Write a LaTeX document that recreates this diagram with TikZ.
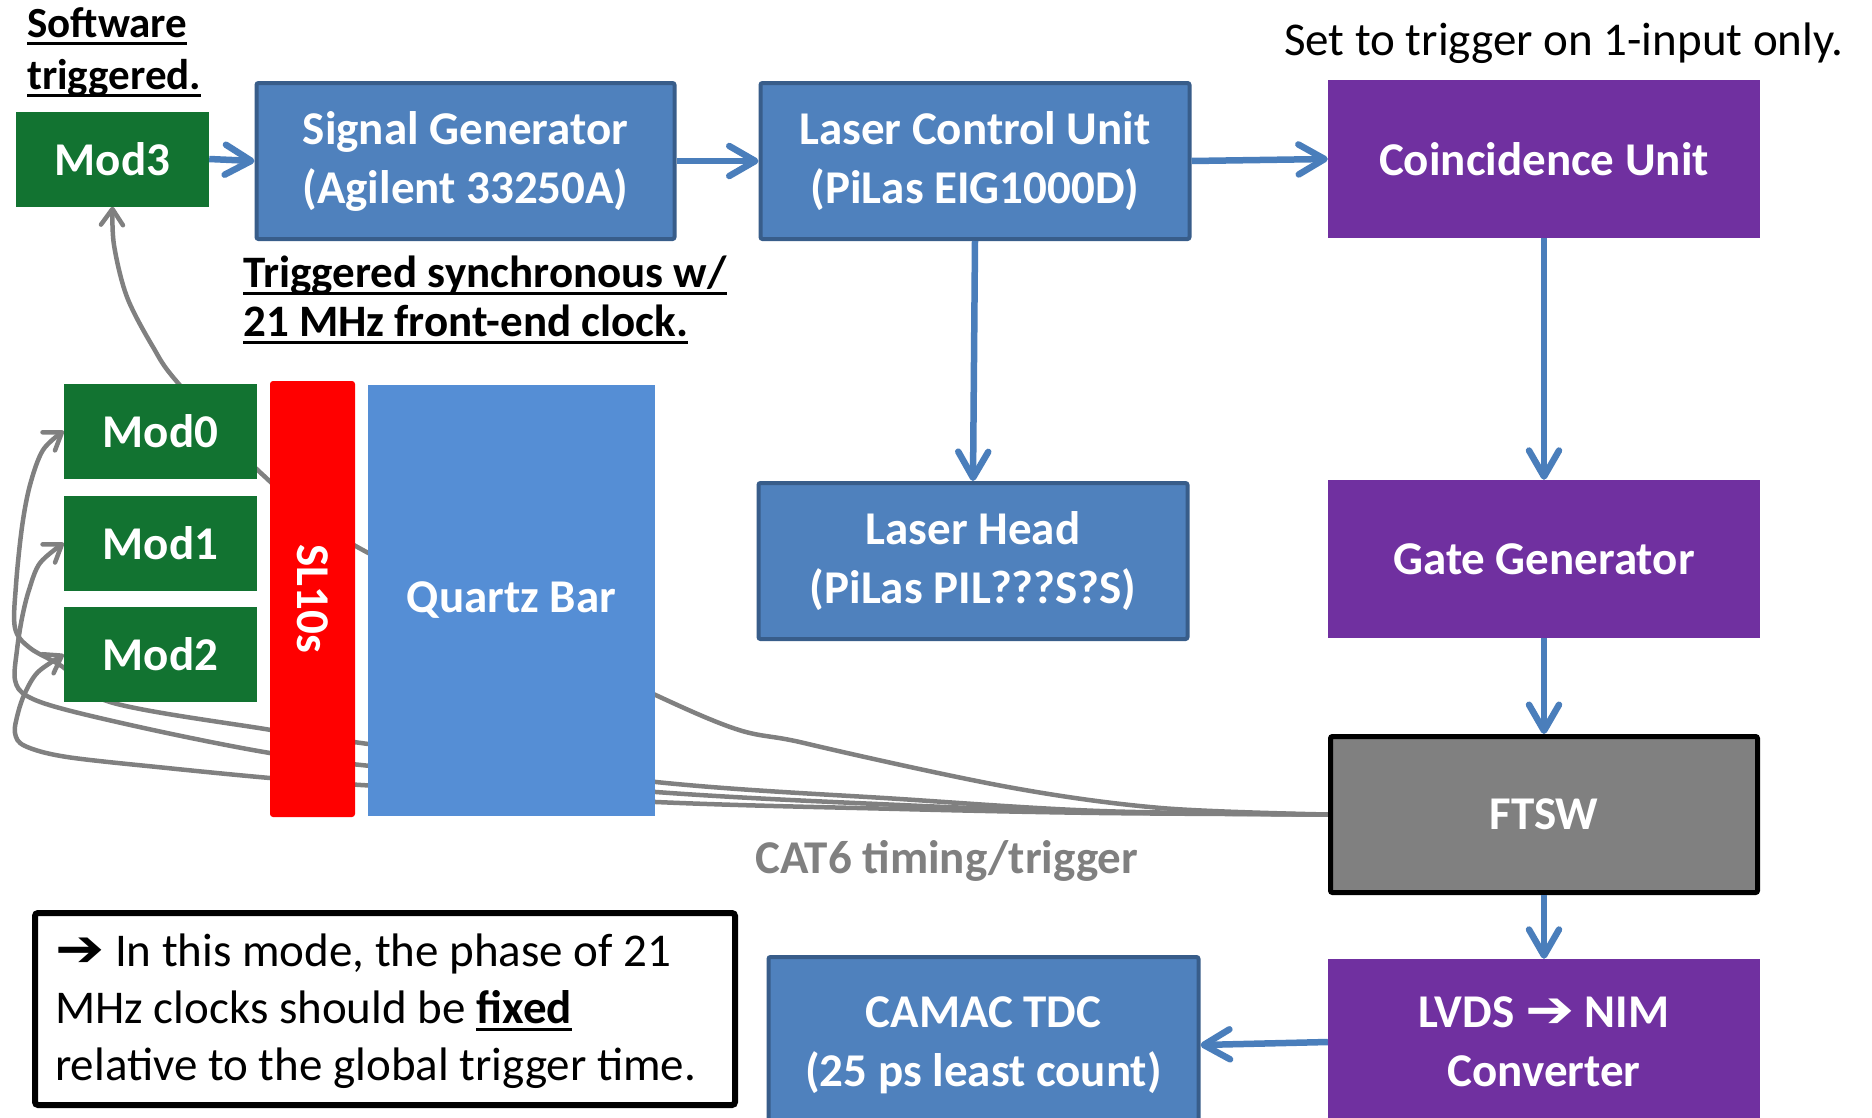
\documentclass[tikz,border=0pt]{standalone}
\usepackage{fontspec}
\setmainfont{Carlito}
\newfontfamily\symfont{DejaVu Sans}
\usetikzlibrary{arrows.meta}
\pgfdeclarelayer{bg}
\pgfsetlayers{bg,main}
\definecolor{boxblue}{HTML}{4F81BD}
\definecolor{boxborder}{HTML}{385D8A}
\definecolor{arrowblue}{HTML}{4A7EBB}
\definecolor{purp}{HTML}{7030A0}
\definecolor{modgreen}{HTML}{127331}
\definecolor{quartz}{HTML}{558ED5}
\definecolor{cable}{HTML}{808080}
\newsavebox\ulbox
\newcommand\myul[1]{\sbox\ulbox{#1}\rlap{\rule[-7.5pt]{\wd\ulbox}{3pt}}\usebox\ulbox}
\newcommand\bigarrow{\scalebox{1.25}[1.1]{\symfont\bfseries ➔}}
\tikzset{
  bigfont/.style={font=\bfseries\fontsize{47}{59}\selectfont},
  bluebox/.style={draw=boxborder, line width=4pt, fill=boxblue, rounded corners=2pt, text=white, bigfont, align=center, inner sep=0pt},
  purplebox/.style={fill=purp, text=white, bigfont, align=center, inner sep=0pt, minimum width=432pt},
  modbox/.style={fill=modgreen, text=white, bigfont, minimum width=193pt, minimum height=95pt, inner sep=0pt},
  ftswbox/.style={fill=cable, draw=black, line width=5pt, rounded corners=2pt, text=white, bigfont, minimum width=427pt, minimum height=156pt},
  bluearrow/.style={draw=arrowblue, line width=6.5pt, -{Straight Barb[length=26pt,width=30pt,round]}},
  cablestyle/.style={draw=cable, line width=4.5pt, line cap=round, -{Straight Barb[length=16pt,width=22pt,round]}},
}
\begin{document}
\begin{tikzpicture}[x=1pt, y=-1pt]
\useasboundingbox (0,0) rectangle (1872,1117);

% boxes
\node[modbox] (mod3) at (112.5,159) {Mod3};
\node[bluebox, minimum width=418pt, minimum height=156pt] (sg) at (465.5,161) {Signal Generator\\(Agilent 33250A)};
\node[bluebox, minimum width=429pt, minimum height=156pt] (lcu) at (975,161) {Laser Control Unit\\(PiLas EIG1000D)};
\node[purplebox, minimum height=158pt] (coinc) at (1544,159) {Coincidence Unit};
\node[bluebox, minimum width=429pt, minimum height=156pt] (lh) at (973,561) {Laser Head\\(PiLas PIL???S?S)};
\node[purplebox, minimum height=158pt] (gate) at (1544,559) {Gate Generator};
\node[ftswbox] (ftsw) at (1544,814.5) {FTSW};
\node[purplebox, minimum height=166pt] (lvds) at (1544,1042) {LVDS \bigarrow{} NIM\\Converter};
\node[bluebox, minimum width=430pt, minimum height=176pt] (tdc) at (983.5,1045) {CAMAC TDC\\(25 ps least count)};

\node[modbox] (mod0) at (160.5,431) {Mod0};
\node[modbox] (mod1) at (160.5,543) {Mod1};
\node[modbox] (mod2) at (160.5,654.5) {Mod2};
\node[fill=red, rounded corners=3pt, minimum width=436pt, minimum height=85pt, text=white, bigfont, rotate=-90, inner sep=0pt] (sl) at (312.5,599) {SL10s};
\node[fill=quartz, minimum width=287pt, minimum height=431pt, text=white, bigfont, inner sep=0pt] (qb) at (511.5,600) {Quartz Bar};

\node[draw=black, line width=6pt, rounded corners=3pt, minimum width=700pt, minimum height=192pt, inner sep=0pt] (note) at (385,1009) {};
\node[anchor=west, align=left, inner sep=0pt, font=\fontsize{47}{57}\selectfont] (notetext) at (55,1011)
  {\bigarrow{} In this mode, the phase of 21\\MHz clocks should be \myul{\textbf{fixed}}\\relative to the global trigger time.};

% labels
\node[anchor=north west, inner sep=0pt, align=left, font=\bfseries\fontsize{43}{52}\selectfont] (sw) at (27,7) {\myul{Software}\\\myul{triggered.}};
\node[anchor=north west, inner sep=0pt, align=left, font=\bfseries\fontsize{45}{49}\selectfont] (ts) at (243,256) {\myul{Triggered synchronous w/}\\\myul{21 MHz front-end clock.}};
\node[anchor=base west, inner sep=0pt, font=\fontsize{47}{57}\selectfont] (set) at (1284,55) {Set to trigger on 1-input only.};
\node[anchor=base west, inner sep=0pt, text=cable, bigfont] (cat) at (755,873) {CAT6 timing/trigger};

% blue arrows
\draw[bluearrow] (mod3.east) -- (sg.west);
\draw[bluearrow] (sg.east) -- (lcu.west);
\draw[bluearrow] (lcu.east) -- (coinc.west);
\draw[bluearrow] (lcu.south) -- (lh.north);
\draw[bluearrow] (coinc.south) -- (gate.north);
\draw[bluearrow] (gate.south) -- (ftsw.north);
\draw[bluearrow] (ftsw.south) -- (lvds.north);
\draw[bluearrow] (lvds.west) -- (tdc.east);

% cables behind the boxes
\begin{pgfonlayer}{bg}
\fill[white] (0,0) rectangle (1872,1117);
\draw[cablestyle] plot[smooth, tension=0.55] coordinates {(ftsw.west) (1161,808) (1008,787) (804,743) (693,712) (361,549) (263,475) (178,383) (153,347) (127,297) (114,245) (mod3.south)};
\draw[cablestyle] plot[smooth, tension=0.55] coordinates {(ftsw.west) (1100,811) (900,799) (656,782) (361,743) (265,729) (110,702) (63,667) (30,648) (15,628) (16,585) (22,527) (30,485) (43,450) (mod0.west)};
\draw[cablestyle] plot[smooth, tension=0.55] coordinates {(ftsw.west) (1100,812) (900,805) (656,792) (361,765) (270,753) (167,733) (67,710) (27,696) (15,680) (17,650) (22,618) (29,590) (40,563) (mod1.west)};
\draw[cablestyle] plot[smooth, tension=0.55] coordinates {(ftsw.west) (1100,813) (900,809) (656,802) (361,785) (270,778) (167,768) (67,757) (25,746) (15,733) (18,713) (25,693) (38,672) (mod2.west)};
\end{pgfonlayer}
\end{tikzpicture}
\end{document}
